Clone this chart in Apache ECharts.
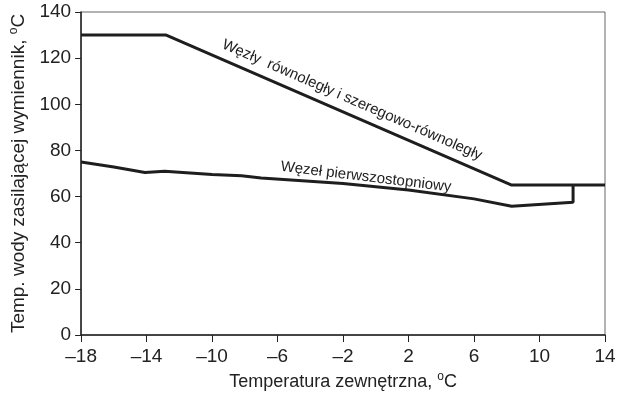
<!DOCTYPE html>
<html>
<head>
<meta charset="utf-8">
<script src="https://cdn.jsdelivr.net/npm/echarts@6/dist/echarts.min.js"></script>
<style>
  html, body { margin: 0; padding: 0; background: #fff; }
  #chart { width: 626px; height: 396px; }
</style>
</head>
<body>
<div id="chart"></div>
<script>
// x ticks / y ticks
const xTicks = [-18, -14, -10, -6, -2, 2, 6, 10, 14];
const yTicks = [0, 20, 40, 60, 80, 100, 120, 140];

// Węzły równoległy i szeregowo-równoległy
const upperX = [-18, -12.8, 8.3, 14];
const upperY = [130, 130, 65, 65];

// Węzeł pierwszostopniowy
const lowerX = [-18, -16, -14.1, -12.9, -10, -8.2, -7, -2, 2, 6, 8.3, 12.05, 12.05];
const lowerY = [75, 72.8, 70.4, 71, 69.6, 69, 68, 65.7, 62.8, 59, 55.8, 57.5, 65];

const zip = (xs, ys) => xs.map((x, i) => [x, ys[i]]);
const font = "'Liberation Sans', Arial, sans-serif";
const dash = (v) => String(v).replace("-", "\u2013");
const supStyle = { fontSize: 12, verticalAlign: "top", padding: [0, 0, 10, 0], color: "#222", fontFamily: font };

const chart = echarts.init(document.getElementById("chart"), null, { renderer: "canvas" });

chart.setOption({
  animation: false,
  grid: {
    left: 79, right: 21, top: 12, bottom: 58,
    show: true, borderColor: "#666", borderWidth: 1
  },
  xAxis: {
    type: "value",
    min: -18, max: 14,
    name: "Temperatura zewnętrzna, {sup|o}C",
    nameLocation: "middle",
    nameGap: 36,
    nameTextStyle: { color: "#222", fontSize: 18, fontFamily: font, rich: { sup: supStyle } },
    axisLine: { onZero: false, lineStyle: { color: "#222", width: 1.5 } },
    axisTick: { show: true, length: 7, customValues: xTicks, lineStyle: { color: "#222" } },
    axisLabel: { customValues: xTicks, formatter: dash, color: "#222", fontSize: 19, fontFamily: font, margin: 12 },
    splitLine: { show: false }
  },
  yAxis: {
    type: "value",
    min: 0, max: 140,
    name: "Temp. wody zasilającej wymiennik, {sup|o}C",
    nameLocation: "middle",
    nameGap: 44,
    nameRotate: 90,
    nameTextStyle: { color: "#222", fontSize: 19, fontFamily: font, rich: { sup: supStyle } },
    axisLine: { show: true, onZero: false, lineStyle: { color: "#222", width: 1.5 } },
    axisTick: { show: true, length: 6, customValues: yTicks, lineStyle: { color: "#222" } },
    axisLabel: { customValues: yTicks, color: "#222", fontSize: 19, fontFamily: font, margin: 10 },
    splitLine: { show: false }
  },
  series: [
    {
      type: "line",
      data: zip(upperX, upperY),
      symbol: "none",
      lineStyle: { color: "#1e1e1e", width: 3 }
    },
    {
      type: "line",
      data: zip(lowerX, lowerY),
      symbol: "none",
      lineStyle: { color: "#1e1e1e", width: 3 }
    }
  ],
  graphic: [
    {
      type: "text",
      x: 352, y: 100,
      rotation: -0.41,
      style: {
        text: "Węzły  równoległy i szeregowo-równoległy",
        font: "15px " + font,
        fill: "#222",
        align: "center",
        verticalAlign: "middle"
      }
    },
    {
      type: "text",
      x: 366, y: 177,
      rotation: -0.12,
      style: {
        text: "Węzeł pierwszostopniowy",
        font: "15px " + font,
        fill: "#222",
        align: "center",
        verticalAlign: "middle"
      }
    }
  ]
});
</script>
</body>
</html>
